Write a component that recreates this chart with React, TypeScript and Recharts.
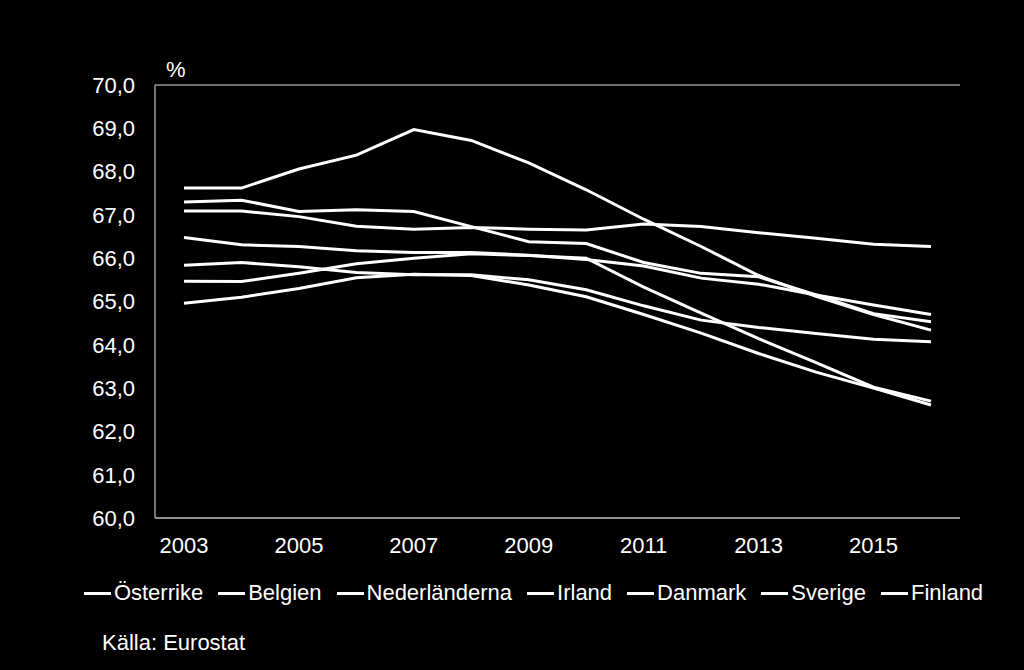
import React from 'react';
import {
  LineChart, Line, XAxis, YAxis, CartesianGrid, Legend,
} from 'recharts';

// Andel av befolkningen 15-64 år, % (läst ur bilden)
const years = ['2003', '2004', '2005', '2006', '2007', '2008', '2009', '2010', '2011', '2012', '2013', '2014', '2015', '2016'];
const xTicks = ['2003', '2005', '2007', '2009', '2011', '2013', '2015'];
const yTicks = [60, 61, 62, 63, 64, 65, 66, 67, 68, 69, 70];

const osterrike = [67.09, 67.09, 66.96, 66.74, 66.67, 66.71, 66.67, 66.65, 66.79, 66.73, 66.59, 66.46, 66.32, 66.27];
const belgien = [66.48, 66.31, 66.27, 66.17, 66.13, 66.13, 66.07, 65.97, 65.82, 65.54, 65.4, 65.15, 64.92, 64.7];
const nederlanderna = [67.3, 67.34, 67.08, 67.12, 67.08, 66.73, 66.38, 66.34, 65.9, 65.65, 65.57, 65.15, 64.72, 64.53];
const irland = [67.62, 67.62, 68.06, 68.38, 68.97, 68.72, 68.2, 67.58, 66.9, 66.27, 65.6, 65.12, 64.7, 64.34];
const danmark = [65.84, 65.9, 65.8, 65.67, 65.62, 65.62, 65.5, 65.27, 64.9, 64.57, 64.4, 64.26, 64.13, 64.07];
const sverige = [64.96, 65.1, 65.3, 65.55, 65.63, 65.6, 65.38, 65.11, 64.7, 64.27, 63.8, 63.37, 63.0, 62.61];
const finland = [65.47, 65.46, 65.65, 65.87, 66.0, 66.1, 66.06, 66.0, 65.33, 64.73, 64.14, 63.59, 63.02, 62.7];

const seriesNames = ['Österrike', 'Belgien', 'Nederländerna', 'Irland', 'Danmark', 'Sverige', 'Finland'];
const seriesValues = [osterrike, belgien, nederlanderna, irland, danmark, sverige, finland];

const data = years.map((year, i) => {
  const row: Record<string, string | number> = { year };
  seriesNames.forEach((name, s) => { row[name] = seriesValues[s][i]; });
  return row;
});

const FONT = '"Liberation Sans", Arial, sans-serif';
const GRID = '#9a9a9a';

// legenden i samma ordning som originalet (inte alfabetisk)
function LegendContent() {
  return (
    <div style={{ display: 'flex', justifyContent: 'center', alignItems: 'center', height: 30 }}>
      {seriesNames.map((name) => (
        <div key={name} style={{ display: 'flex', alignItems: 'center', marginRight: 15 }}>
          <span style={{ display: 'inline-block', width: 27, height: 3, background: '#fff', marginRight: 3 }} />
          <span style={{ color: '#fff', fontSize: 22, fontFamily: FONT }}>{name}</span>
        </div>
      ))}
    </div>
  );
}

export default function App() {
  return (
    <div style={{ position: 'absolute', left: 0, top: 0, width: 1024, height: 670, background: '#000', fontFamily: FONT }}>
      <LineChart width={1024} height={670} data={data} margin={{ top: 85, right: 64, left: 0, bottom: 62 }}>
        <CartesianGrid horizontal vertical={false} stroke={GRID} strokeWidth={1.5} />
        <XAxis
          dataKey="year"
          ticks={xTicks}
          interval={0}
          height={60}
          tickSize={0}
          tickMargin={19}
          axisLine={{ stroke: GRID, strokeWidth: 1.5 }}
          tick={{ fill: '#fff', fontSize: 22, fontFamily: FONT }}
          padding={{ left: 29, right: 29 }}
        />
        <YAxis
          yAxisId="left"
          domain={[60, 70]}
          ticks={yTicks}
          width={155}
          tickSize={0}
          tickMargin={20}
          axisLine={{ stroke: GRID, strokeWidth: 1.5 }}
          tick={{ fill: '#fff', fontSize: 22, fontFamily: FONT }}
          tickFormatter={(v: number) => v.toFixed(1).replace('.', ',')}
        />
        <YAxis yAxisId="right" orientation="right" width={0} tick={false} tickLine={false} axisLine={{ stroke: GRID, strokeWidth: 1.5 }} />
        <Legend verticalAlign="bottom" height={30} content={<LegendContent />} wrapperStyle={{ left: 0, width: 1024, paddingLeft: 58, boxSizing: 'border-box' }} />
        {seriesNames.map((name) => (
          <Line
            key={name}
            yAxisId="left"
            type="linear"
            dataKey={name}
            name={name}
            stroke="#fff"
            strokeWidth={3}
            dot={false}
            isAnimationActive={false}
          />
        ))}
      </LineChart>
      <div style={{ position: 'absolute', left: 166, top: 57, color: '#fff', fontSize: 22 }}>%</div>
      <div style={{ position: 'absolute', left: 102, top: 630, color: '#fff', fontSize: 22 }}>Källa: Eurostat</div>
    </div>
  );
}
